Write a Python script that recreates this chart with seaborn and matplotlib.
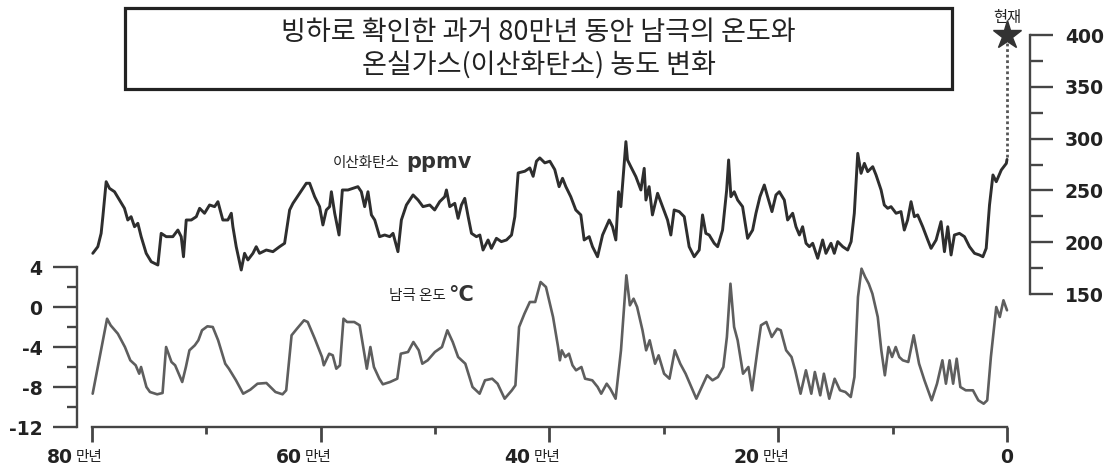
import matplotlib
matplotlib.use("Agg")
import matplotlib.pyplot as plt
from matplotlib.patches import Rectangle
from matplotlib.transforms import offset_copy
import seaborn as sns
import pandas as pd

# ---------------- data ----------------
temp_year = [79.94, 78.68, 78.37, 77.74, 77.12, 76.65, 76.18, 75.87, 75.71, 75.24,
             74.93, 74.30, 73.83, 73.52, 73.05, 72.73, 72.42, 72.11, 71.79, 71.48,
             71.01, 70.70, 70.38, 69.91, 69.44, 68.97, 68.35, 68.03, 67.41, 66.78,
             66.16, 65.53, 64.75, 63.96, 63.34, 63.02, 62.55, 62.08, 61.46, 61.14,
             60.52, 59.89, 59.73, 59.26, 58.95, 58.64, 58.32, 58.01, 57.70, 57.07,
             56.60, 55.97, 55.66, 55.35, 54.88, 54.57, 53.94, 53.31, 53.00, 52.37,
             51.90, 51.43, 51.12, 50.65, 50.02, 49.40, 48.93, 48.46, 47.99, 47.36,
             46.73, 46.11, 45.64, 45.01, 44.54, 43.92, 43.29, 42.98, 42.66, 42.19,
             41.72, 41.25, 40.78, 40.31, 39.69, 39.25, 39.09, 38.93, 38.62, 38.30,
             37.99, 37.68, 37.21, 36.89, 36.26, 35.79, 35.48, 35.00, 34.69, 34.22,
             33.75, 33.28, 32.97, 32.65, 32.34, 31.87, 31.55, 31.24, 30.77, 30.46,
             29.98, 29.51, 29.04, 28.57, 28.10, 27.47, 27.16, 26.69, 26.22, 25.75,
             25.27, 24.80, 24.49, 24.18, 23.86, 23.55, 23.08, 22.61, 22.29, 21.82,
             21.51, 21.04, 20.57, 20.09, 19.78, 19.31, 18.84, 18.52, 18.05, 17.58,
             17.11, 16.80, 16.33, 16.01, 15.54, 15.07, 14.60, 14.13, 13.66, 13.34,
             13.03, 12.72, 12.40, 12.09, 11.77, 11.30, 10.99, 10.68, 10.36, 10.05,
             9.73, 9.42, 9.11, 8.63, 8.16, 7.69, 7.22, 6.59, 6.12, 5.65,
             5.34, 5.02, 4.71, 4.40, 4.08, 3.61, 2.98, 2.51, 2.04, 1.73,
             1.41, 1.10, 0.94, 0.63, 0.31, 0.0]
temp_val = [-8.67, -1.17, -1.83, -2.67, -4.0, -5.33, -5.83, -6.67, -6.0, -8.0,
            -8.5, -8.73, -8.6, -4.0, -5.5, -5.83, -6.67, -7.5, -6.0, -4.33,
            -3.83, -3.33, -2.33, -1.93, -2.0, -3.33, -5.67, -6.17, -7.33, -8.67,
            -8.27, -7.67, -7.6, -8.5, -8.73, -8.33, -2.83, -2.17, -1.33, -1.5,
            -3.17, -5.0, -5.83, -4.67, -4.83, -6.17, -5.83, -1.17, -1.5, -1.5,
            -1.83, -6.17, -4.0, -6.0, -7.17, -7.73, -7.5, -7.17, -4.67, -4.5,
            -3.5, -4.33, -5.67, -5.33, -4.5, -4.0, -2.33, -3.5, -5.0, -5.67,
            -8.0, -8.67, -7.33, -7.17, -7.67, -9.17, -8.33, -7.83, -2.0, -0.67,
            0.5, 0.5, 2.5, 2.0, -1.0, -4.0, -5.33, -4.33, -5.0, -4.67,
            -5.83, -6.33, -6.0, -7.17, -7.33, -8.0, -8.67, -7.67, -8.17, -9.17,
            -4.33, 3.17, 0.17, 0.83, 0.0, -2.33, -4.33, -3.33, -5.67, -4.83,
            -6.67, -7.17, -4.33, -5.67, -6.67, -8.33, -9.17, -8.0, -6.83, -7.33,
            -7.0, -6.0, -3.0, 2.33, -2.0, -3.33, -6.67, -6.0, -8.33, -4.33,
            -1.83, -1.5, -3.0, -2.17, -2.33, -4.33, -5.0, -6.33, -8.67, -6.33,
            -8.67, -6.5, -8.83, -6.67, -9.17, -7.17, -8.33, -8.5, -9.0, -7.0,
            1.0, 3.83, 3.0, 2.33, 1.33, -1.0, -4.33, -6.83, -4.0, -5.0,
            -4.0, -5.0, -5.33, -5.5, -2.83, -5.67, -7.33, -9.33, -7.67, -5.33,
            -7.67, -5.33, -7.67, -5.17, -8.0, -8.33, -8.33, -9.33, -9.67, -9.33,
            -5.0, -1.67, 0.0, -1.0, 0.67, -0.33]

co2_year = [79.93, 79.49, 79.20, 79.05, 78.76, 78.47, 78.03, 77.59, 77.16, 76.87,
            76.58, 76.28, 75.99, 75.70, 75.26, 74.82, 74.24, 73.95, 73.51, 72.93,
            72.49, 72.20, 72.00, 71.76, 71.32, 70.88, 70.59, 70.16, 69.72, 69.28,
            68.99, 68.56, 68.12, 67.82, 67.68, 67.39, 66.95, 66.66, 66.37, 65.93,
            65.64, 65.35, 64.76, 64.18, 63.60, 63.16, 62.72, 62.43, 61.85, 61.26,
            60.97, 60.53, 60.10, 59.81, 59.51, 59.22, 59.07, 58.78, 58.40, 58.11,
            57.62, 57.18, 56.75, 56.45, 56.16, 55.87, 55.57, 55.28, 54.85, 54.41,
            53.97, 53.68, 53.25, 52.95, 52.51, 51.93, 51.49, 51.06, 50.47, 50.04,
            49.60, 49.16, 49.01, 48.72, 48.28, 47.99, 47.70, 47.41, 47.11, 46.82,
            46.39, 46.09, 45.81, 45.37, 45.08, 44.64, 44.21, 43.76, 43.32, 43.03,
            42.74, 42.16, 41.72, 41.43, 41.14, 40.85, 40.41, 39.97, 39.54,
            39.16, 38.86, 38.57, 38.14, 37.70, 37.26, 36.97, 36.53, 36.24, 35.80,
            35.36, 34.78, 34.49, 34.20, 33.96, 33.76, 33.32, 33.18, 32.89, 32.45,
            32.01, 31.72, 31.57, 31.29, 31.00, 30.55, 30.11, 29.68, 29.39, 29.10,
            28.66, 28.22, 27.79, 27.35, 26.91, 26.62, 26.33, 26.04, 25.60, 25.30,
            24.87, 24.51, 24.34, 24.14, 23.85, 23.55, 23.12, 22.68, 22.24, 21.95,
            21.60, 21.22, 20.93, 20.55, 20.20, 19.91, 19.47, 19.18, 18.74, 18.45,
            18.15, 17.87, 17.57, 17.28, 16.99, 16.55, 16.12, 15.83, 15.39, 15.10,
            14.80, 14.36, 13.93, 13.63, 13.35, 13.05, 12.76, 12.47, 12.18, 11.74,
            11.45, 11.01, 10.73, 10.43, 10.14, 9.70, 9.27, 8.98, 8.69, 8.39,
            8.10, 7.81, 7.37, 6.93, 6.64, 6.20, 5.77, 5.47, 5.18, 4.89,
            4.60, 4.16, 3.72, 3.28, 2.84, 2.41, 2.11, 1.82, 1.53, 1.23,
            0.94, 0.50, 0.06, 0.0]
co2_val = [189.3, 195.7, 208.6, 224.7, 258.5, 252.1, 248.8, 240.8, 232.8, 221.5,
           224.7, 215.0, 218.3, 205.4, 189.3, 181.2, 178.0, 208.6, 205.4, 205.4,
           211.8, 205.4, 186.0, 221.5, 221.5, 224.7, 232.8, 228.0, 236.0, 234.4,
           239.2, 221.5, 221.5, 228.0, 215.0, 195.7, 173.2, 189.3, 182.9, 189.3,
           195.7, 189.3, 192.5, 190.9, 195.7, 199.0, 231.2, 237.6, 247.3, 257.0,
           257.0, 244.0, 234.4, 216.7, 231.2, 234.4, 248.8, 228.0, 207.0, 250.5,
           250.5, 252.1, 253.7, 248.8, 234.4, 248.8, 226.4, 221.5, 205.4, 207.0,
           205.4, 208.6, 190.9, 221.5, 236.0, 245.7, 240.8, 234.4, 236.0, 231.2,
           239.2, 244.0, 250.5, 234.4, 237.6, 223.1, 236.0, 242.4, 224.7, 208.6,
           205.4, 207.0, 192.5, 202.2, 194.1, 203.8, 200.6, 202.2, 207.0, 224.7,
           267.0, 268.6, 271.8, 263.7, 278.3, 281.5, 276.7, 278.3, 270.2,
           253.7, 261.8, 253.7, 244.0, 231.2, 226.4, 202.2, 205.4, 195.7, 186.0,
           207.0, 221.5, 215.0, 202.2, 248.8, 234.4, 297.2, 279.5, 273.0, 263.4,
           250.5, 271.4, 240.8, 253.7, 226.4, 247.3, 234.4, 221.5, 207.0, 231.2,
           229.6, 224.7, 195.7, 186.0, 192.5, 226.4, 208.6, 207.0, 199.0, 195.7,
           211.8, 250.5, 279.5, 244.0, 248.8, 240.8, 234.4, 203.8, 211.8, 228.0,
           244.0, 255.3, 244.0, 229.6, 245.7, 248.8, 240.8, 221.5, 228.0, 215.0,
           207.0, 215.0, 199.0, 195.7, 199.0, 184.5, 202.2, 189.3, 199.0, 189.3,
           200.6, 195.7, 192.5, 200.6, 228.0, 285.9, 266.6, 276.2, 268.2, 273.0,
           265.0, 250.5, 236.0, 232.8, 234.4, 228.0, 229.6, 211.8, 221.5, 239.2,
           224.7, 226.4, 215.0, 202.2, 194.1, 202.2, 219.9, 190.9, 215.0, 187.7,
           207.0, 208.6, 205.4, 195.7, 189.3, 187.7, 186.0, 194.1, 236.0, 265.0,
           258.5, 269.8, 276.2, 280.0]

present_year = 0
present_co2 = 400

temp_ticks = [-12, -8, -4, 0, 4]
temp_minor = [-10, -6, -2, 2]
co2_ticks = [150, 200, 250, 300, 350, 400]
co2_minor = [175, 225, 275, 325, 375]
x_ticks = [80, 60, 40, 20, 0]
x_minor = [70, 50, 30, 10]
x_numbers = ["80", "60", "40", "20", "0"]
x_units = ["만년", "만년", "만년", "만년", ""]

title_lines = ["빙하로 확인한 과거 80만년 동안 남극의 온도와",
               "온실가스(이산화탄소) 농도 변화"]
co2_label = ("이산화탄소", "ppmv")
temp_label = ("남극 온도", "°C")
present_label = "현재"

# ---------------- style ----------------
sns.set_theme(style="ticks")
plt.rcParams['font.family'] = ['DejaVu Sans', 'Noto Sans CJK KR']
KR = ['Noto Sans CJK KR', 'DejaVu Sans']
INK = '#222222'
AXC = '#454545'

W, H = 1116, 465
fig = plt.figure(figsize=(W / 100, H / 100), dpi=100)
fig.patch.set_facecolor('white')


def box(x0, y0, x1, y1):
    return [x0 / W, 1 - y1 / H, (x1 - x0) / W, (y1 - y0) / H]


XL = (81.31, -2.01)
ax_t = fig.add_axes(box(77, 262, 1030, 427))
ax_c = fig.add_axes(box(77, 35.25, 1030, 294))
for ax in (ax_t, ax_c):
    ax.set_facecolor('none')

# ---------------- temperature ----------------
df_t = pd.DataFrame({'year': temp_year, 'temp': temp_val})
sns.lineplot(data=df_t, x='year', y='temp', ax=ax_t, color='#5e5e5e',
             lw=1.9, sort=False, estimator=None)
ax_t.set_xlim(*XL)
ax_t.set_ylim(-12, 4.5)
ax_t.set_xlabel('')
ax_t.set_ylabel('')
for s in ('top', 'right'):
    ax_t.spines[s].set_visible(False)
ax_t.spines['left'].set_bounds(-12, 4)
ax_t.spines['bottom'].set_bounds(0, 80)
for s in ('left', 'bottom'):
    ax_t.spines[s].set_color(AXC)
    ax_t.spines[s].set_linewidth(1.7)
ax_t.set_yticks(temp_ticks)
ax_t.set_yticks(temp_minor, minor=True)
ax_t.set_yticklabels([str(v) for v in temp_ticks], fontweight='bold', color=INK)
ax_t.tick_params(axis='y', which='major', left=True, length=17, width=1.7,
                 color=AXC, pad=8, labelsize=13.5)
ax_t.tick_params(axis='y', which='minor', left=True, length=7, width=1.7, color=AXC)
ax_t.set_xticks(x_ticks)
ax_t.set_xticks(x_minor, minor=True)
ax_t.tick_params(axis='x', which='major', bottom=True, length=11, width=2.0,
                 color=AXC, labelbottom=False)
ax_t.tick_params(axis='x', which='minor', bottom=True, length=5, width=2.0, color=AXC)

trans = ax_t.get_xaxis_transform()
ylab = -(455 - 427) / 165
for v, num, unit in zip(x_ticks, x_numbers, x_units):
    if unit:
        ax_t.text(v, ylab, num, transform=offset_copy(trans, fig=fig, x=-19, y=0, units='dots'),
                  ha='right', va='center_baseline', fontweight='bold', fontsize=13.5, color=INK)
        ax_t.text(v, ylab, unit, transform=offset_copy(trans, fig=fig, x=-16, y=0, units='dots'),
                  ha='left', va='center_baseline', family=KR, fontsize=10.5, color=INK)
    else:
        ax_t.text(v, ylab, num, transform=trans, ha='center', va='center_baseline',
                  fontweight='bold', fontsize=13.5, color=INK)

# ---------------- CO2 ----------------
df_c = pd.DataFrame({'year': co2_year, 'co2': co2_val})
sns.lineplot(data=df_c, x='year', y='co2', ax=ax_c, color='#2e2e2e',
             lw=2.1, sort=False, estimator=None)
ax_c.set_xlim(*XL)
ax_c.set_ylim(150, 400)
ax_c.set_xlabel('')
ax_c.set_ylabel('')
for s in ('top', 'left', 'bottom'):
    ax_c.spines[s].set_visible(False)
ax_c.spines['right'].set_bounds(150, 400)
ax_c.spines['right'].set_color(AXC)
ax_c.spines['right'].set_linewidth(1.7)
ax_c.yaxis.tick_right()
ax_c.set_yticks(co2_ticks)
ax_c.set_yticks(co2_minor, minor=True)
ax_c.set_yticklabels([str(v) for v in co2_ticks], fontweight='bold', color=INK)
ax_c.tick_params(axis='y', which='major', right=True, left=False, length=16.5,
                 width=1.7, color=AXC, pad=8.5, labelsize=13.5)
ax_c.tick_params(axis='y', which='minor', right=True, left=False, length=9,
                 width=1.7, color=AXC)
ax_c.tick_params(axis='x', which='both', bottom=False, labelbottom=False)

# present-day marker
ax_c.plot([present_year, present_year], [co2_val[-1] + 2, present_co2 - 4],
          color='#555555', lw=2.0, dashes=(1, 1), clip_on=False)
ax_c.plot([present_year], [present_co2], marker='*', ms=21, color='#333333',
          clip_on=False, lw=0)
ax_c.annotate(present_label, xy=(present_year, present_co2), xytext=(0, 18),
              textcoords='offset pixels', ha='center', va='center',
              family=KR, fontsize=11, color=INK, annotation_clip=False)

# ---------------- series labels ----------------
fig.text(400 / W, 1 - 163 / H, co2_label[0], ha='right', va='center',
         family=KR, fontsize=10.5, color=INK)
fig.text(406 / W, 1 - 162 / H, co2_label[1], ha='left', va='center',
         fontweight='bold', fontsize=15, color='#333333')
fig.text(446 / W, 1 - 296 / H, temp_label[0], ha='right', va='center',
         family=KR, fontsize=10.5, color=INK)
fig.text(448 / W, 1 - 295 / H, temp_label[1], ha='left', va='center',
         fontweight='bold', fontsize=15, color='#333333')

# ---------------- title ----------------
fig.add_artist(Rectangle((125 / W, 1 - 89 / H), 827 / W, 81 / H,
                         transform=fig.transFigure, fill=False, lw=2.3, ec=INK))
fig.text(538.5 / W, 1 - 32.5 / H, title_lines[0], ha='center', va='center',
         family=KR, fontsize=19.5, color=INK)
fig.text(538.5 / W, 1 - 65.5 / H, title_lines[1], ha='center', va='center',
         family=KR, fontsize=19.5, color=INK)

fig.savefig('out.png', dpi=100, facecolor='white')
